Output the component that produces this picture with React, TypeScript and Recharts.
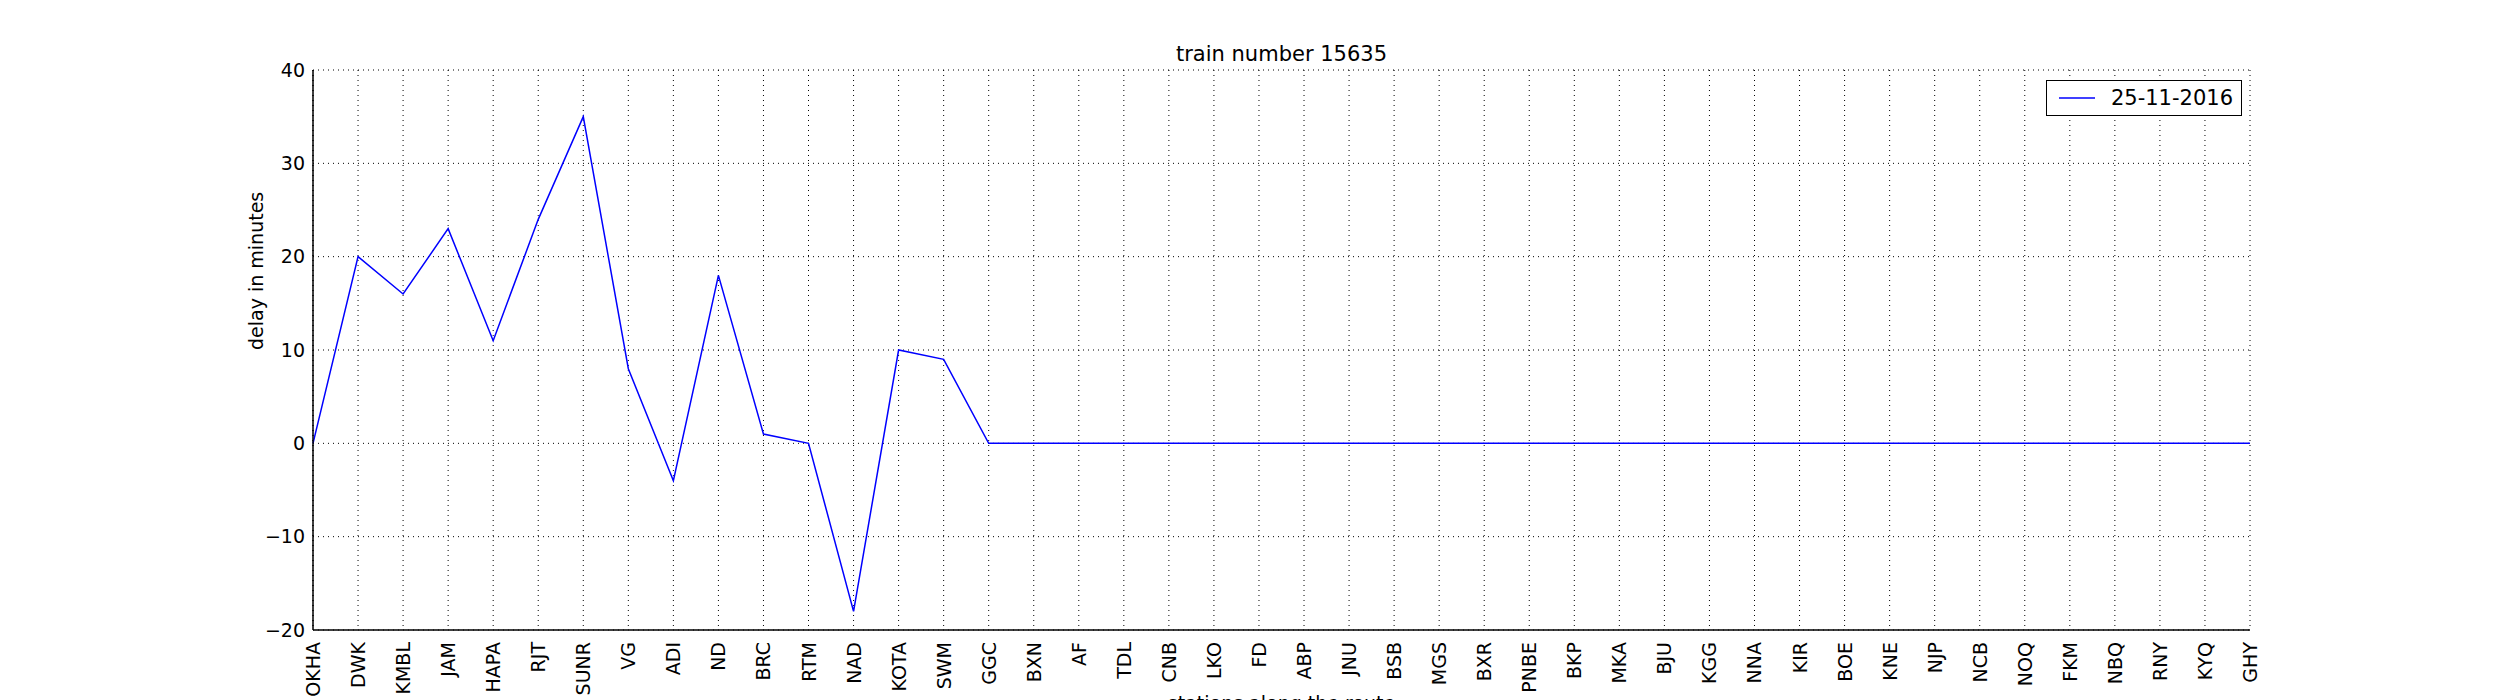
import React from 'react';
import { LineChart, Line, XAxis, YAxis, CartesianGrid } from 'recharts';

const STATIONS = [
  'OKHA', 'DWK', 'KMBL', 'JAM', 'HAPA', 'RJT', 'SUNR', 'VG', 'ADI', 'ND', 'BRC', 'RTM', 'NAD', 'KOTA', 'SWM',
  'GGC', 'BXN', 'AF', 'TDL', 'CNB', 'LKO', 'FD', 'ABP', 'JNU', 'BSB', 'MGS', 'BXR', 'PNBE', 'BKP', 'MKA',
  'BJU', 'KGG', 'NNA', 'KIR', 'BOE', 'KNE', 'NJP', 'NCB', 'NOQ', 'FKM', 'NBQ', 'RNY', 'KYQ', 'GHY',
];
const DELAYS = [
  0, 20, 16, 23, 11, 24, 35, 8, -4, 18, 1, 0, -18, 10, 9,
  0, 0, 0, 0, 0, 0, 0, 0, 0, 0, 0, 0, 0, 0, 0,
  0, 0, 0, 0, 0, 0, 0, 0, 0, 0, 0, 0, 0, 0,
];
const Y_TICKS = [-20, -10, 0, 10, 20, 30, 40];
const SERIES_NAME = '25-11-2016';

const FONT = 'DejaVu Sans, sans-serif';
const FS = 19;

const data = STATIONS.map((s, i) => ({ station: s, delay: DELAYS[i] }));

function StationTick({ x, y, payload }: any) {
  return (
    <text
      x={0}
      y={0}
      transform={`translate(${x + 7},${y + 4}) rotate(-90)`}
      textAnchor="end"
      fontSize={FS}
      fontFamily={FONT}
      fill="#000"
    >
      {payload.value}
    </text>
  );
}

function LegendBox() {
  return (
    <div
      style={{
        position: 'absolute', right: 258, top: 80,
        border: '1.5px solid #000',
        background: '#fff',
        padding: '5px 8px',
        display: 'flex',
        alignItems: 'center',
        fontFamily: FONT,
        fontSize: 21,
      }}
    >
      <svg width={44} height={10} style={{ marginRight: 12 }}>
        <line x1={4} y1={5} x2={40} y2={5} stroke="#0000ff" strokeWidth={1.5} />
      </svg>
      {SERIES_NAME}
    </div>
  );
}

export default function App() {
  return (
    <div style={{ position: 'absolute', left: 0, top: 0, width: 2500, height: 700, background: '#fff' }}>
      <div
        style={{
          position: 'absolute', left: 313, width: 1937, top: 42, textAlign: 'center',
          fontFamily: FONT, fontSize: 21,
        }}
      >
        train number 15635
      </div>
      <LineChart width={2500} height={700} data={data} margin={{ top: 70, right: 250, left: 253, bottom: 0 }}>
        <CartesianGrid stroke="#000" strokeDasharray="1 4" />
        <XAxis
          dataKey="station"
          interval={0}
          height={70}
          tick={<StationTick />}
          tickLine={false}
          axisLine={{ stroke: '#000', strokeWidth: 1.5 }}
          label={{ value: 'stations along the route', position: 'insideBottom', offset: -10, fontSize: FS, fontFamily: FONT, fill: '#000' }}
        />
        <XAxis xAxisId="top" dataKey="station" orientation="top" height={0} tick={false} tickLine={false} axisLine={{ stroke: '#000', strokeWidth: 1.5 }} />
        <YAxis
          domain={[-20, 40]}
          ticks={Y_TICKS}
          width={60}
          tickLine={false}
          tickFormatter={(v: number) => (v < 0 ? `\u2212${-v}` : `${v}`)}
          tick={{ fontSize: FS, fontFamily: FONT, fill: '#000' }}
          axisLine={{ stroke: '#000', strokeWidth: 1.5 }}
          label={{ value: 'delay in minutes', angle: -90, position: 'insideLeft', offset: 0, dx: 3, fontSize: FS, fontFamily: FONT, fill: '#000' }}
        />
        <YAxis yAxisId="right" orientation="right" width={0} domain={[-20, 40]} tick={false} tickLine={false} axisLine={{ stroke: '#000', strokeWidth: 1.5 }} />
        <Line
          type="linear"
          dataKey="delay"
          name={SERIES_NAME}
          stroke="#0000ff"
          strokeWidth={1.5}
          dot={false}
          isAnimationActive={false}
        />
      </LineChart>
      <LegendBox />
    </div>
  );
}
